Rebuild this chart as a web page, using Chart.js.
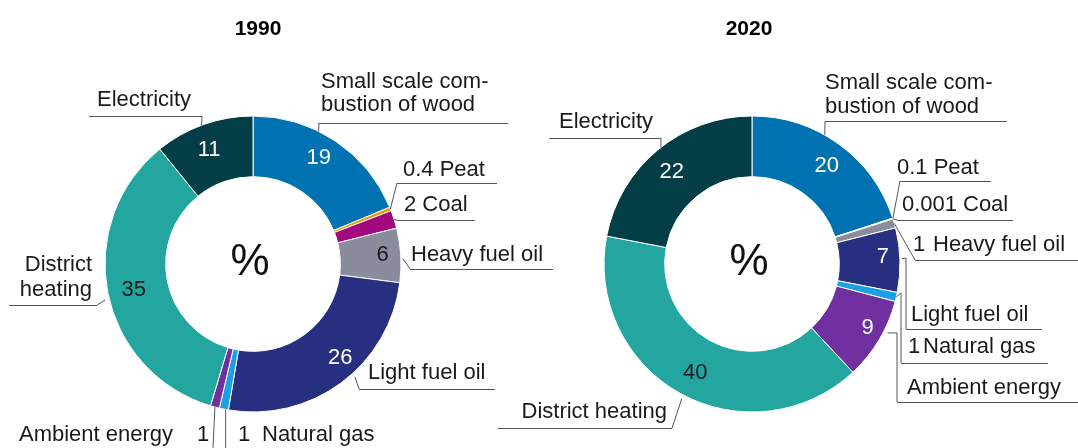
<!DOCTYPE html>
<html>
<head>
<meta charset="utf-8">
<script src="https://cdn.jsdelivr.net/npm/chart.js@4.4.1/dist/chart.umd.min.js"></script>
<style>
  html, body { margin: 0; padding: 0; background: #fff; }
  #wrap { position: relative; width: 1078px; height: 448px; overflow: hidden; }
  #wrap canvas { position: absolute; left: 0; top: 0; }
</style>
</head>
<body>
<div id="wrap">
  <canvas id="c1990" width="1078" height="448"></canvas>
  <canvas id="c2020" width="1078" height="448"></canvas>
</div>
<script>
// energy sources for heating, share in %
const categories = ["Small scale combustion of wood", "Peat", "Coal", "Heavy fuel oil",
    "Light fuel oil", "Natural gas", "Ambient energy", "District heating", "Electricity"];
const colours = ["#0072b1", "#f39200", "#a3097f", "#8a8b9c", "#262f80",
    "#1ba1e2", "#7030a0", "#22a69f", "#033e46"];
const values1990 = [19, 0.4, 2, 6, 26, 1, 1, 35, 11];
const values2020 = [20, 0.1, 0.001, 1, 7, 1, 9, 40, 22];

const FONT = '22px "Liberation Sans", Arial, sans-serif';
const INK = "#1a1a1a";

// where the annotations sit (page px), leaders start on the ring
const layout1990 = {
    title: ["1990", 258, 29],
    pad: {left: 105, right: 677, top: 116, bottom: 36},
    inside: [
        {i: 0, f: 0.47, r: 125, c: "#fff"},
        {i: 3, f: 0.47, r: 130, c: INK},
        {i: 4, f: 0.43, r: 128, c: "#fff"},
        {i: 7, f: 0.49, r: 122, c: INK},
        {i: 8, f: 0.46, r: 122, c: "#fff"}
    ],
    notes: [
        {i: 0, f: 0.39, path: [[319, 123]], line: [319, 508, 123],
            text: [["Small scale com-", 321, 82], ["bustion of wood", 321, 105]]},
        {i: 1, f: 0.5, path: [[397, 183]], line: [397, 497, 183], text: [["{v} Peat", 403, 170]]},
        {i: 2, f: 0.5, path: [[397, 220]], line: [397, 475, 220], text: [["{v} Coal", 404, 205]]},
        {i: 3, f: 0.56, gap: 2, path: [[410, 269]], line: [410, 553, 269], text: [["Heavy fuel oil", 411, 255]]},
        {i: 4, f: 0.44, gap: 4, path: [[359, 389]], line: [359, 495, 389], text: [["Light fuel oil", 368, 373]]},
        {i: 5, f: 0.3, path: [[null, 448]], text: [["{v}", 238, 435], ["Natural gas", 262, 435]]},
        {i: 6, f: 0.5, path: [[213, 448]], text: [["Ambient energy", 19, 435], ["{v}", 197, 435]]},
        {i: 7, f: 0.48, gap: 4, path: [[97, 305]], line: [9, 97, 305],
            text: [["District", 92, 265, "right"], ["heating", 92, 290, "right"]]},
        {i: 8, f: 0.48, path: [[202, 116]], line: [89, 202, 116], text: [["Electricity", 97, 100]]}
    ]
};

const layout2020 = {
    title: ["2020", 749, 29],
    pad: {left: 604, right: 178, top: 116, bottom: 36},
    inside: [
        {i: 0, f: 0.52, r: 123, c: "#fff"},
        {i: 4, f: 0.44, r: 131, c: "#fff"},
        {i: 6, f: 0.44, r: 132, c: "#fff"},
        {i: 7, f: 0.49, r: 123, c: INK},
        {i: 8, f: 0.48, r: 122, c: "#fff"}
    ],
    notes: [
        {i: 0, f: 0.41, path: [[825, 121]], line: [825, 1007, 121],
            text: [["Small scale com-", 825, 83], ["bustion of wood", 825, 107]]},
        {i: 1, f: 0.5, path: [[900, 181]], line: [900, 991, 181], text: [["{v} Peat", 897, 168]]},
        {i: 2, f: 0.5, path: [[897, 220]], line: [897, 1013, 220], text: [["{v}", 902, 205], ["Coal", 963, 205]]},
        {i: 3, f: 0.5, path: [[915, 260]], line: [915, 1078, 260], text: [["{v}", 913, 245], ["Heavy fuel oil", 933, 245]]},
        {i: 4, f: 0.48, gap: 2, path: [[906, 258], [906, 329]], line: [906, 1042, 329], text: [["Light fuel oil", 911, 315]]},
        {i: 5, f: 0.5, path: [[901, 293], [901, 363]], line: [901, 1048, 363], text: [["{v}", 908, 347], ["Natural gas", 923, 347]]},
        {i: 6, f: 0.38, gap: 4, path: [[897, 333], [897, 402]], line: [897, 1078, 402], text: [["Ambient energy", 907, 388]]},
        {i: 7, f: 0.49, gap: 4, path: [[672, 428]], line: [498, 672, 428], text: [["District heating", 667, 412, "right"]]},
        {i: 8, f: 0.52, path: [[661, 138]], line: [549, 661, 138], text: [["Electricity", 559, 122]]}
    ]
};

const donutLabels = {
    id: "donutLabels",
    afterDatasetsDraw(chart, args, opts) {
        const ctx = chart.ctx;
        const arcs = chart.getDatasetMeta(0).data;
        const vals = chart.data.datasets[0].data;
        const L = opts.layout;
        function at(i, f, r) {
            const a = arcs[i];
            const ang = a.startAngle + (a.endAngle - a.startAngle) * f;
            return [a.x + Math.cos(ang) * r, a.y + Math.sin(ang) * r];
        }
        ctx.save();
        ctx.textBaseline = "middle";

        // title
        ctx.font = 'bold 21px "Liberation Sans", Arial, sans-serif';
        ctx.textAlign = "center";
        ctx.fillStyle = "#000";
        ctx.fillText(L.title[0], L.title[1], L.title[2]);

        // unit in the hole
        ctx.font = '44px "Liberation Sans", Arial, sans-serif';
        ctx.fillStyle = "#111";
        ctx.fillText("%", arcs[0].x - 3, arcs[0].y - 1);

        // numbers inside the ring
        ctx.font = FONT;
        L.inside.forEach(v => {
            const p = at(v.i, v.f, v.r);
            ctx.fillStyle = v.c;
            ctx.fillText(String(vals[v.i]), p[0], p[1]);
        });

        // leader lines and outside labels
        ctx.strokeStyle = "#555";
        ctx.lineWidth = 1;
        L.notes.forEach(n => {
            const a = arcs[n.i];
            const p = at(n.i, n.f, a.outerRadius + (n.gap || 0));
            ctx.beginPath();
            ctx.moveTo(p[0], p[1]);
            n.path.forEach(q => ctx.lineTo(q[0] === null ? p[0] : q[0], q[1]));
            ctx.stroke();
            if (n.line) {
                ctx.beginPath();
                ctx.moveTo(n.line[0], n.line[2] + 0.5);
                ctx.lineTo(n.line[1], n.line[2] + 0.5);
                ctx.stroke();
            }
            ctx.fillStyle = INK;
            n.text.forEach(t => {
                ctx.textAlign = t[3] || "left";
                ctx.fillText(t[0].replace("{v}", String(vals[n.i])), t[1], t[2]);
            });
        });
        ctx.restore();
    }
};

function donut(id, values, layout) {
    return new Chart(document.getElementById(id), {
        type: "doughnut",
        data: {
            labels: categories,
            datasets: [{
                data: values,
                backgroundColor: colours,
                borderColor: "#ffffff",
                borderWidth: 1,
                hoverOffset: 0
            }]
        },
        options: {
            responsive: false,
            animation: false,
            events: [],
            radius: 148,
            cutout: "59%",
            layout: {padding: layout.pad},
            plugins: {
                legend: {display: false},
                tooltip: {enabled: false},
                donutLabels: {layout: layout}
            }
        },
        plugins: [donutLabels]
    });
}

donut("c1990", values1990, layout1990);
donut("c2020", values2020, layout2020);
</script>
</body>
</html>
